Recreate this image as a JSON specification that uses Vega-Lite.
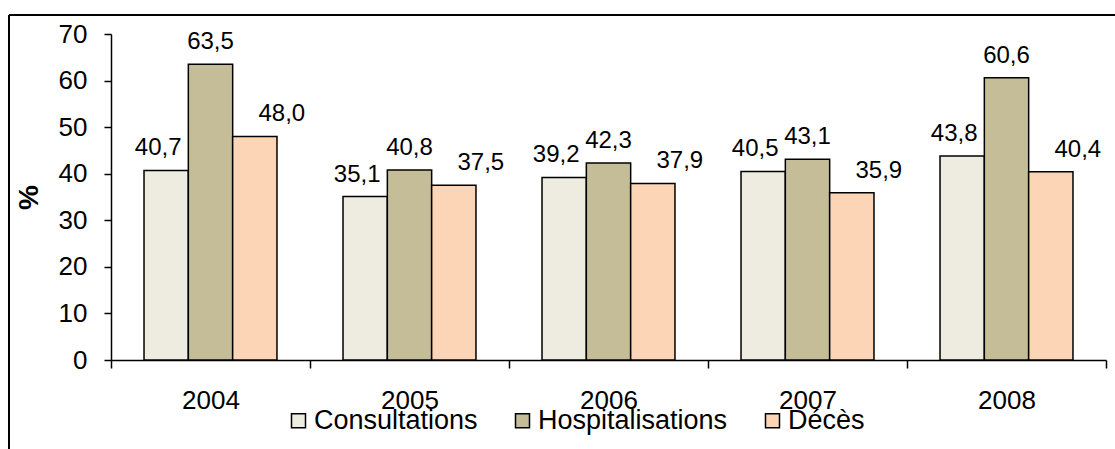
{
  "$schema": "https://vega.github.io/schema/vega-lite/v6.json",
  "width": 995,
  "height": 326,
  "autosize": {"type": "none"},
  "padding": {"left": 111, "top": 34, "right": 9, "bottom": 89},
  "background": "white",
  "config": {
    "locale": {"number": {"decimal": ",", "thousands": " ", "grouping": [3], "currency": ["", " €"]}},
    "view": {"stroke": null},
    "font": "Liberation Sans",
    "axis": {"domainColor": "black", "tickColor": "black", "labelColor": "black", "titleColor": "black", "grid": false, "domainWidth": 1.5, "tickWidth": 1.5}
  },
  "datasets": {
    "rates": [
      {"year": "2004", "serie": "Consultations", "value": 40.7},
      {"year": "2004", "serie": "Hospitalisations", "value": 63.5},
      {"year": "2004", "serie": "Décès", "value": 48.0},
      {"year": "2005", "serie": "Consultations", "value": 35.1},
      {"year": "2005", "serie": "Hospitalisations", "value": 40.8},
      {"year": "2005", "serie": "Décès", "value": 37.5},
      {"year": "2006", "serie": "Consultations", "value": 39.2},
      {"year": "2006", "serie": "Hospitalisations", "value": 42.3},
      {"year": "2006", "serie": "Décès", "value": 37.9},
      {"year": "2007", "serie": "Consultations", "value": 40.5},
      {"year": "2007", "serie": "Hospitalisations", "value": 43.1},
      {"year": "2007", "serie": "Décès", "value": 35.9},
      {"year": "2008", "serie": "Consultations", "value": 43.8},
      {"year": "2008", "serie": "Hospitalisations", "value": 60.6},
      {"year": "2008", "serie": "Décès", "value": 40.4}
    ],
    "frame": [{"part": "border"}]
  },
  "data": {"name": "rates"},
  "layer": [
    {
      "mark": {"type": "bar", "stroke": "black", "strokeWidth": 1.5},
      "encoding": {
        "x": {
          "field": "year", "type": "nominal",
          "scale": {"paddingInner": 0, "paddingOuter": 0},
          "axis": {"title": null, "labelAngle": 0, "labelFontSize": 26, "tickBand": "extent", "tickSize": 8, "labelPadding": 19}
        },
        "xOffset": {"field": "serie", "type": "nominal", "scale": {"domain": ["Consultations", "Hospitalisations", "Décès"], "paddingInner": 0, "paddingOuter": 0.745}},
        "y": {
          "field": "value", "type": "quantitative",
          "scale": {"domain": [0, 70], "nice": false},
          "axis": {"title": "%", "titleFontSize": 28, "titleFontWeight": "bold", "titlePadding": 15, "values": [0, 10, 20, 30, 40, 50, 60, 70], "tickSize": 7, "labelPadding": 17, "labelFontSize": 26}
        },
        "color": {
          "field": "serie", "type": "nominal",
          "scale": {"domain": ["Consultations", "Hospitalisations", "Décès"], "range": ["#EEECE1", "#C4BD97", "#FBD5B5"]},
          "legend": {"orient": "none", "direction": "horizontal", "legendX": 174, "legendY": 373, "title": null, "labelFontSize": 27, "labelLimit": 0, "labelColor": "black", "symbolType": "square", "symbolSize": 196, "symbolStrokeColor": "black", "symbolStrokeWidth": 1.5, "symbolOpacity": 1, "labelOffset": 2, "columnPadding": 31}
        }
      }
    },
    {
      "transform": [{"filter": "datum.serie === 'Consultations'"}],
      "mark": {"type": "text", "dx": -8, "dy": -15, "baseline": "alphabetic", "fontSize": 24, "color": "black"},
      "encoding": {
        "x": {"field": "year", "type": "nominal"},
        "xOffset": {"field": "serie", "type": "nominal"},
        "y": {"field": "value", "type": "quantitative"},
        "text": {"field": "value", "type": "quantitative", "format": ".1f"}
      }
    },
    {
      "transform": [{"filter": "datum.serie === 'Hospitalisations'"}],
      "mark": {"type": "text", "dx": 0, "dy": -15, "baseline": "alphabetic", "fontSize": 24, "color": "black"},
      "encoding": {
        "x": {"field": "year", "type": "nominal"},
        "xOffset": {"field": "serie", "type": "nominal"},
        "y": {"field": "value", "type": "quantitative"},
        "text": {"field": "value", "type": "quantitative", "format": ".1f"}
      }
    },
    {
      "transform": [{"filter": "datum.serie === 'Décès'"}],
      "mark": {"type": "text", "dx": 27, "dy": -15, "baseline": "alphabetic", "fontSize": 24, "color": "black"},
      "encoding": {
        "x": {"field": "year", "type": "nominal"},
        "xOffset": {"field": "serie", "type": "nominal"},
        "y": {"field": "value", "type": "quantitative"},
        "text": {"field": "value", "type": "quantitative", "format": ".1f"}
      }
    },
    {
      "data": {"name": "frame"},
      "mark": {"type": "rule", "color": "black", "strokeWidth": 2, "clip": false},
      "encoding": {
        "x": {"datum": "2004", "bandPosition": -0.5126},
        "x2": {"datum": "2008", "bandPosition": 1.06},
        "y": {"datum": 74.08}
      }
    },
    {
      "data": {"name": "frame"},
      "mark": {"type": "rule", "color": "black", "strokeWidth": 2, "clip": false},
      "encoding": {
        "x": {"datum": "2004", "bandPosition": -0.5126},
        "y": {"datum": 74.08},
        "y2": {"datum": -20}
      }
    }
  ]
}
